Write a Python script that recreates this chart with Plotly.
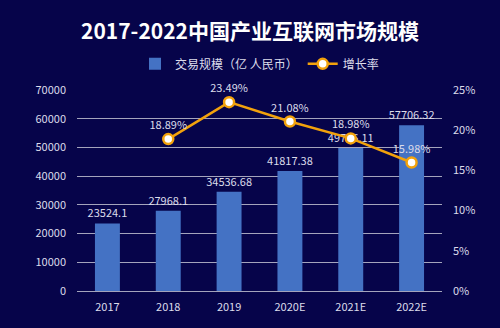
import plotly.graph_objects as go

categories = ["2017", "2018", "2019", "2020E", "2021E", "2022E"]
scale_values = [23524.1, 27968.1, 34536.68, 41817.38, 49766.11, 57706.32]
growth_rates = [None, 18.89, 23.49, 21.08, 18.98, 15.98]
left_ticks = [0, 10000, 20000, 30000, 40000, 50000, 60000, 70000]
right_ticks = [0, 5, 10, 15, 20, 25]

BG = "#06044a"
TXT = "#dcdcea"
GRID = "#a4a4bc"
FONT = "Noto Sans CJK SC"

fig = go.Figure()
fig.add_trace(go.Bar(
    x=categories, y=scale_values, name="交易规模（亿 人民币）",
    marker=dict(color="#4472c4", line=dict(width=0)),
    width=0.41,
    text=[str(v) for v in scale_values], textposition="outside",
    constraintext="none",
    textfont=dict(color=TXT, size=11, family=FONT), cliponaxis=False,
))
fig.add_trace(go.Scatter(
    x=categories, y=growth_rates, name="增长率", yaxis="y2",
    mode="lines+markers+text",
    line=dict(color="#f2a20c", width=2.5),
    marker=dict(size=10, color="white", line=dict(color="#f2a20c", width=2.5)),
    text=[("%.2f%%" % v) if v is not None else "" for v in growth_rates],
    textposition="top center",
    textfont=dict(color=TXT, size=11, family=FONT), cliponaxis=False,
))

fig.update_layout(
    width=500, height=328,
    paper_bgcolor=BG, plot_bgcolor=BG,
    margin=dict(l=77, r=58, t=90, b=37),
    font=dict(family=FONT, color=TXT, size=11),
    title=dict(text="<b>2017-2022中国产业互联网市场规模</b>", x=0.5, xanchor="center",
               y=1 - 32 / 328, yanchor="middle", font=dict(size=21, color="white", family=FONT)),
    legend=dict(orientation="h", x=0.5, xanchor="center", y=1.13, yanchor="middle",
                font=dict(size=12, color=TXT), bgcolor="rgba(0,0,0,0)"),
    xaxis=dict(showgrid=False, showline=False, ticks="", ticklabelstandoff=8,
               tickfont=dict(size=11, color=TXT)),
    yaxis=dict(range=[0, 70000], tickvals=left_ticks, ticktext=[str(t) for t in left_ticks],
               showgrid=True, gridcolor=GRID, gridwidth=1,
               zeroline=True, zerolinecolor=GRID, zerolinewidth=1,
               ticks="", ticklabelstandoff=10, tickfont=dict(size=11, color=TXT)),
    yaxis2=dict(range=[0, 25], tickvals=right_ticks, ticktext=["%d%%" % t for t in right_ticks],
                overlaying="y", side="right", ticklabelstandoff=10,
                showgrid=False, zeroline=False, ticks="", tickfont=dict(size=11, color=TXT)),
)

fig.write_html("out.html")
